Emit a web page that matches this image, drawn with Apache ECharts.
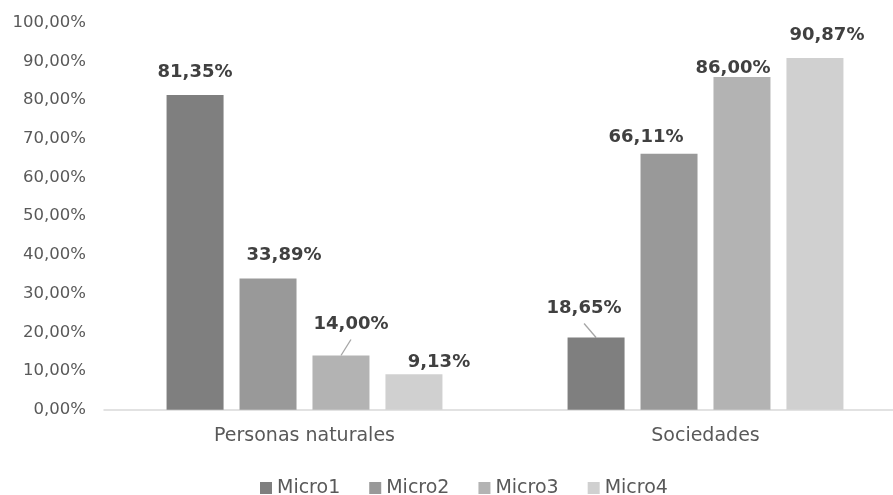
<!DOCTYPE html>
<html>
<head>
<meta charset="utf-8">
<script src="https://cdn.jsdelivr.net/npm/echarts@6/dist/echarts.min.js"></script>
<style>
html,body{margin:0;padding:0;background:#fff;}
#chart{width:893px;height:495px;}
</style>
</head>
<body>
<div id="chart"></div>
<script>
const categories = ['Personas naturales', 'Sociedades'];
const seriesNames = ['Micro1', 'Micro2', 'Micro3', 'Micro4'];
const micro1 = [81.35, 18.65];
const micro2 = [33.89, 66.11];
const micro3 = [14.00, 86.00];
const micro4 = [9.13, 90.87];
const yTicks = [0, 10, 20, 30, 40, 50, 60, 70, 80, 90, 100];

// styling (not data)
const colors = ['#7f7f7f', '#999999', '#b3b3b3', '#d0d0d0'];
const labelShift = [
  [[0, -14], [-12, -20]],
  [[16, -14], [-23, -8]],
  [[10, -22], [-9, 0]],
  [[25, -3], [12, -14]]
];
const guideLines = [[false, true], [false, false], [true, false], [false, false]];

const values = [micro1, micro2, micro3, micro4];
const FONT = 'DejaVu Sans';
const fmt = v => v.toFixed(2).replace('.', ',') + '%';

const series = seriesNames.map((name, si) => ({
  name: name,
  type: 'bar',
  barWidth: 57,
  barGap: '28%',
  itemStyle: { color: colors[si] },
  data: values[si],
  label: {
    show: true,
    position: 'top',
    distance: 0,
    fontFamily: FONT,
    fontWeight: 'bold',
    fontSize: 18,
    color: '#404040',
    formatter: p => fmt(p.value)
  },
  labelLayout: p => ({ dx: labelShift[si][p.dataIndex][0], dy: labelShift[si][p.dataIndex][1] })
}));

const chart = echarts.init(document.getElementById('chart'), null, { renderer: 'canvas' });
chart.setOption({
  animation: false,
  backgroundColor: '#ffffff',
  textStyle: { fontFamily: FONT },
  grid: { left: 104, width: 802, top: 22.7, bottom: 85.3, containLabel: false, outerBoundsMode: 'none' },
  legend: {
    data: seriesNames,
    left: 260,
    top: 478.5,
    padding: 0,
    icon: 'rect',
    itemWidth: 12,
    itemHeight: 12,
    itemGap: 29,
    textStyle: { fontFamily: FONT, fontSize: 19, color: '#595959' }
  },
  xAxis: {
    type: 'category',
    data: categories,
    axisLine: { lineStyle: { color: '#d9d9d9', width: 1.5 } },
    axisTick: { show: false },
    axisLabel: { fontFamily: FONT, fontSize: 19, color: '#595959', margin: 17 }
  },
  yAxis: {
    type: 'value',
    min: yTicks[0],
    max: yTicks[yTicks.length - 1],
    interval: yTicks[1] - yTicks[0],
    splitLine: { show: false },
    axisLine: { show: false },
    axisTick: { show: false },
    axisLabel: { fontFamily: FONT, fontSize: 16.5, color: '#595959', margin: 18, formatter: v => fmt(v) }
  },
  series: series
});

// leader lines from bar top to shifted label, using the library's bar layout
const lines = [];
const model = chart.getModel();
guideLines.forEach((row, si) => row.forEach((on, di) => {
  if (!on) return;
  const lay = model.getSeriesByIndex(si).getData().getItemLayout(di);
  const top = Math.min(lay.y, lay.y + lay.height);
  const cx = lay.x + lay.width / 2;
  const s = labelShift[si][di];
  lines.push({
    type: 'line',
    silent: true,
    shape: { x1: cx, y1: top, x2: cx + s[0], y2: top + s[1] + 6 },
    style: { stroke: '#a6a6a6', lineWidth: 1.3 }
  });
}));
chart.setOption({ graphic: lines });
</script>
</body>
</html>
